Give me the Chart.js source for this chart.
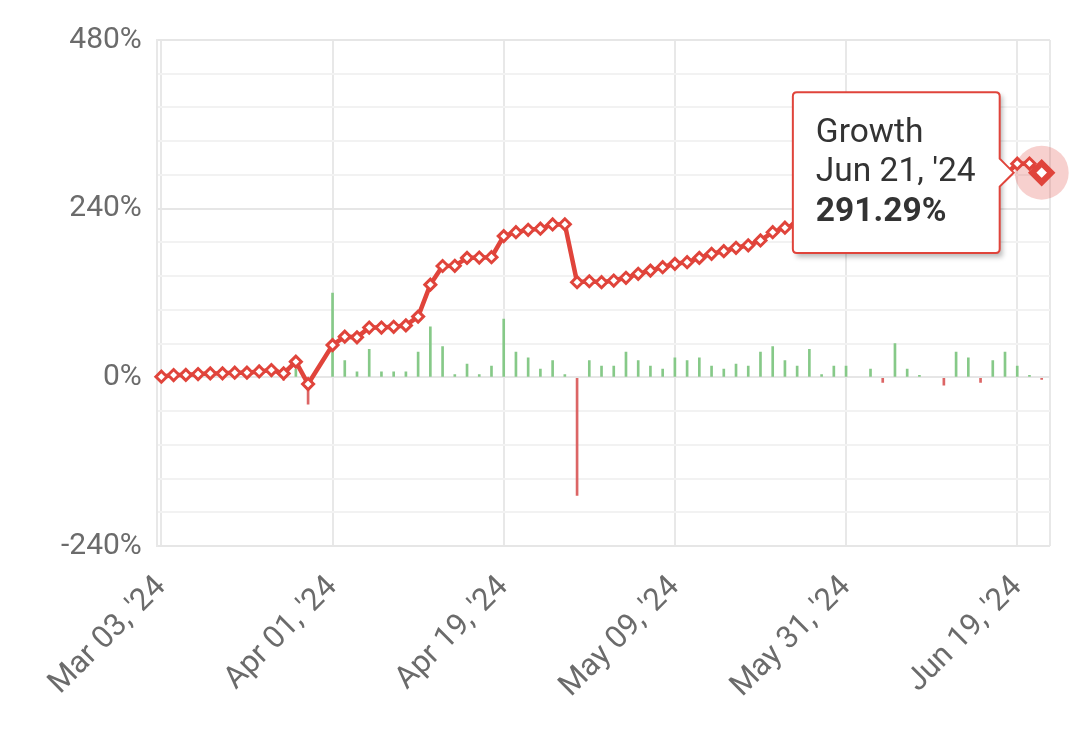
<!DOCTYPE html>
<html>
<head>
<meta charset="utf-8">
<script src="https://cdn.jsdelivr.net/npm/chart.js@4.4.1/dist/chart.umd.min.js"></script>
<style>
    html, body { margin: 0; padding: 0; background: #fff; }
    #wrap { width: 1079px; height: 736px; }
</style>
</head>
<body>
<div id="wrap"><canvas id="chart"></canvas></div>
<script>
const dates = [
    "Mar 03, '24", "Mar 05, '24", "Mar 06, '24", "Mar 07, '24", "Mar 08, '24", "Mar 11, '24", "Mar 12, '24",
    "Mar 13, '24", "Mar 14, '24", "Mar 15, '24", "Mar 18, '24", "Mar 20, '24", "Mar 22, '24", "Mar 28, '24",
    "Apr 01, '24", "Apr 02, '24", "Apr 03, '24", "Apr 04, '24", "Apr 05, '24", "Apr 08, '24", "Apr 09, '24",
    "Apr 10, '24", "Apr 11, '24", "Apr 12, '24", "Apr 15, '24", "Apr 16, '24", "Apr 17, '24", "Apr 18, '24",
    "Apr 19, '24", "Apr 22, '24", "Apr 23, '24", "Apr 24, '24", "Apr 25, '24", "Apr 26, '24", "Apr 29, '24",
    "Apr 30, '24", "May 01, '24", "May 02, '24", "May 03, '24", "May 06, '24", "May 07, '24", "May 08, '24",
    "May 09, '24", "May 10, '24", "May 13, '24", "May 14, '24", "May 15, '24", "May 16, '24", "May 17, '24",
    "May 20, '24", "May 22, '24", "May 23, '24", "May 24, '24", "May 28, '24", "May 29, '24", "May 30, '24",
    "May 31, '24", "Jun 02, '24", "Jun 03, '24", "Jun 04, '24", "Jun 05, '24", "Jun 06, '24", "Jun 07, '24",
    "Jun 10, '24", "Jun 11, '24", "Jun 12, '24", "Jun 13, '24", "Jun 14, '24", "Jun 17, '24", "Jun 18, '24",
    "Jun 19, '24", "Jun 20, '24", "Jun 21, '24"
];

// cumulative growth, %
const growth = [
    1, 3.4, 3.6, 4.8, 5.7, 5.8, 6.7, 6.8, 8.5, 10.5,
    5.7, 22.4, -9.4, null, 46, 58, 57, 71, 71, 72,
    74, 86.5, 132, 158.5, 158.8, 170, 170.5, 171, 201, 206.6,
    210, 211.5, 217.6, 217.8, 135.4, 136.8, 135.4, 137.8, 141.7, 147.4,
    152, 156.8, 161.6, 163.9, 170, 175.9, 179.6, 184.4, 188, 194.8,
    206.6, 213, 218, 226, 227, 231, 235, 235.2, 239, 237,
    247, 250, 251, 251.2, 248, 258, 266, 263, 272, 288,
    304, 304.3, 291.29
];

// daily change, %
const daily = [
    null, 3, 1, 2, 1, 1, 2, 1, 3, 2,
    -4, 12, -38, null, 120, 24, 8, 40, 8, 8,
    8, 36, 72, 44, 4, 19, 4, 16, 83, 36,
    28, 12, 24, 4, -168, 24, 16, 16, 36, 24,
    16, 12, 28, 24, 28, 16, 12, 19, 16, 36,
    44, 24, 16, 40, 4, 16, 16, null, 12, -7,
    48, 12, 3, null, -11, 36, 28, -7, 24, 36,
    16, 3, -3
];

const xTickIndex = [0, 14, 28, 42, 56, 70];
const yTicks = [-240, 0, 240, 480];
const activeIndex = 72;

const red = '#e0443b';
const green = '#86c988';
const barRed = '#dc6565';
const textGray = '#6b6b6b';

Chart.defaults.font.family = 'Roboto';

const haloPlugin = {
    id: 'halo',
    beforeDatasetsDraw(chart) {
        const active = chart.getActiveElements();
        if (!active.length) return;
        const el = active[0].element;
        const ctx = chart.ctx;
        ctx.save();
        ctx.fillStyle = 'rgba(224, 68, 59, 0.25)';
        ctx.beginPath();
        ctx.arc(el.x, el.y, 27, 0, Math.PI * 2);
        ctx.fill();
        ctx.restore();
    },
    beforeTooltipDraw(chart, args) {
        const t = args.tooltip;
        const ctx = chart.ctx;
        ctx.save();
        ctx.shadowColor = 'rgba(0, 0, 0, 0.28)';
        ctx.shadowBlur = 5;
        ctx.shadowOffsetX = 3;
        ctx.shadowOffsetY = 4;
        ctx.fillStyle = '#fff';
        ctx.fillRect(t.x, t.y, t.width, t.height);
        ctx.restore();
    }
};

const ctx = document.getElementById('chart').getContext('2d');
const chart = new Chart(ctx, {
    type: 'line',
    data: {
        datasets: [{
            type: 'line',
            label: 'Growth',
            data: growth.map((v, i) => ({ x: i, y: v })),
            borderColor: red,
            borderWidth: 4.5,
            tension: 0,
            spanGaps: true,
            pointStyle: 'rectRot',
            pointRadius: 5.5,
            pointBorderWidth: 3,
            pointBackgroundColor: '#fff',
            pointBorderColor: red,
            pointHoverRadius: 9.5,
            pointHoverBorderWidth: 6,
            pointHoverBackgroundColor: '#fff',
            pointHoverBorderColor: red,
            clip: false,
            order: 0
        }, {
            type: 'bar',
            label: 'Daily',
            data: daily.map((v, i) => ({ x: i, y: v })),
            backgroundColor: daily.map(v => v < 0 ? barRed : green),
            barThickness: 2,
            order: 1
        }]
    },
    options: {
        responsive: true,
        maintainAspectRatio: false,
        animation: false,
        events: [],
        layout: { padding: { left: 46, right: 29, top: 40, bottom: 8 } },
        scales: {
            x: {
                type: 'linear',
                min: -0.37,
                max: 72.68,
                offset: false,
                afterBuildTicks: axis => {
                    axis.ticks = xTickIndex.concat([axis.max]).map(v => ({ value: v }));
                },
                afterFit: axis => {
                    axis.paddingLeft = 0;
                    axis.paddingRight = 0;
                },
                ticks: {
                    autoSkip: false,
                    minRotation: 45,
                    maxRotation: 45,
                    padding: 23,
                    color: textGray,
                    font: { size: 31 },
                    callback: v => xTickIndex.includes(v) ? dates[v] : ''
                },
                grid: { color: '#e8e8e8', lineWidth: 2, drawTicks: false, offset: false },
                border: { display: false }
            },
            y: {
                min: -240,
                max: 480,
                ticks: {
                    stepSize: 48,
                    autoSkip: false,
                    padding: 15,
                    color: textGray,
                    font: { size: 30 },
                    callback: v => yTicks.includes(v) ? v + '%' : ''
                },
                grid: {
                    color: c => yTicks.includes(c.tick.value) ? '#e6e6e6' : '#f2f2f2',
                    lineWidth: 2,
                    drawTicks: false
                },
                border: { display: true, color: '#e8e8e8', width: 2 }
            }
        },
        plugins: {
            legend: { display: false },
            tooltip: {
                backgroundColor: '#fff',
                borderColor: red,
                borderWidth: 2,
                titleColor: '#333',
                bodyColor: '#333',
                titleFont: { size: 33.5, weight: 'normal', lineHeight: 1.12 },
                bodyFont: { size: 33.5, weight: 'bold', lineHeight: 1.12 },
                titleSpacing: 2,
                titleMarginBottom: 2,
                padding: { left: 23, right: 24, top: 22, bottom: 22 },
                caretSize: 14,
                caretPadding: 28,
                cornerRadius: 4,
                displayColors: false,
                xAlign: 'right',
                yAlign: 'center',
                callbacks: {
                    title: items => ['Growth', dates[items[0].dataIndex]],
                    label: item => item.parsed.y.toFixed(2) + '%'
                }
            }
        }
    },
    plugins: [haloPlugin]
});

const pt = chart.getDatasetMeta(0).data[activeIndex];
chart.setActiveElements([{ datasetIndex: 0, index: activeIndex }]);
chart.tooltip.setActiveElements([{ datasetIndex: 0, index: activeIndex }], { x: pt.x, y: pt.y });
chart.update();
</script>
</body>
</html>
